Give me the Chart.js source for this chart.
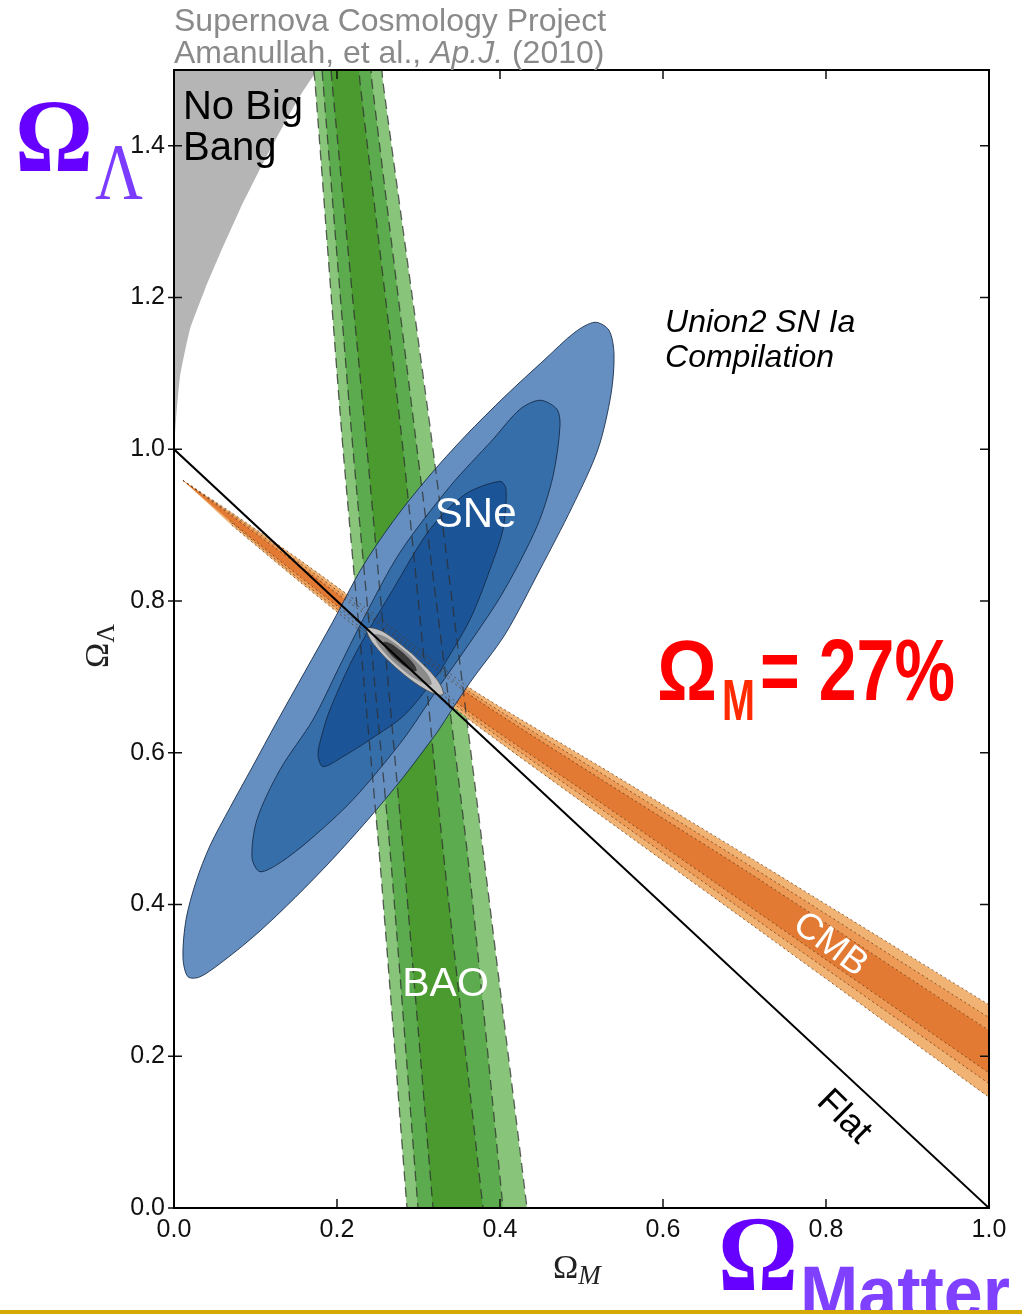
<!DOCTYPE html>
<html>
<head>
<meta charset="utf-8">
<script src="https://cdn.jsdelivr.net/npm/chart.js@4.4.1/dist/chart.umd.min.js"></script>
<style>
  html, body { margin: 0; padding: 0; background: #fff; }
</style>
</head>
<body>
<canvas id="chart" width="1022" height="1314"></canvas>
<script>
(function () {
	/*global Chart */

	// Axis ticks
	var xTicks = [0, 0.2, 0.4, 0.6, 0.8, 1.0];
	var yTicks = [0, 0.2, 0.4, 0.6, 0.8, 1.0, 1.2, 1.4];

	// "No Big Bang" region (boundary curve, then closed outside the frame)
	var noBigBangX = [0, 0.0025, 0.0074, 0.0196, 0.0380, 0.0589, 0.0810, 0.1055, 0.1337, 0.1546, 0.1767, 0.19, -0.05, -0.05];
	var noBigBangY = [1.0, 1.0396, 1.0963, 1.1583, 1.2111, 1.2639, 1.3166, 1.3694, 1.4261, 1.4657, 1.5013, 1.52, 1.52, 0.95];

	// BAO band edges, sampled at these OmegaLambda values
	var baoY = [1.52, 1.484, 1.0, 0.472, 0.0, -0.03];
	var baoLightLeft = [0.1693, 0.1730, 0.2074, 0.2515, 0.2859, 0.2883];
	var baoMidLeft = [0.1804, 0.1828, 0.2196, 0.2650, 0.2994, 0.3018];
	var baoDarkLeft = [0.1914, 0.1939, 0.2368, 0.2810, 0.3178, 0.3202];
	var baoDarkRight = [0.2258, 0.2282, 0.2810, 0.3301, 0.3791, 0.3816];
	var baoMidRight = [0.2405, 0.2429, 0.2982, 0.3595, 0.4037, 0.4061];
	var baoLightRight = [0.2540, 0.2564, 0.3178, 0.3791, 0.4331, 0.4356];

	// CMB band edges, sampled at these OmegaM values
	var cmbX = [0.011, 0.0687, 0.1546, 0.2528, 0.3607, 0.5227, 0.7067, 1.0, 1.0258];
	var cmbLightUpper = [0.959, 0.918, 0.854, 0.777, 0.687, 0.582, 0.462, 0.268, 0.251];
	var cmbLightLower = [0.959, 0.902, 0.825, 0.740, 0.645, 0.518, 0.375, 0.146, 0.127];
	var cmbMidUpper = [0.959, 0.916, 0.850, 0.772, 0.682, 0.574, 0.451, 0.251, 0.234];
	var cmbMidLower = [0.959, 0.905, 0.828, 0.745, 0.650, 0.527, 0.386, 0.164, 0.144];
	var cmbDarkUpper = [0.959, 0.914, 0.846, 0.768, 0.678, 0.566, 0.441, 0.234, 0.217];
	var cmbDarkLower = [0.959, 0.906, 0.832, 0.749, 0.655, 0.535, 0.397, 0.178, 0.158];

	// SNe contours (99.7%, 95.4%, 68.3%)
	var sneOuterX = [0.3227, 0.2810, 0.2380, 0.1939, 0.1485, 0.1031, 0.0626, 0.0319, 0.0172, 0.0110, 0.0147, 0.0270, 0.0442, 0.0687, 0.0957, 0.1264, 0.1607, 0.1951, 0.2307, 0.2687, 0.3117, 0.3571, 0.4061, 0.4552, 0.4920, 0.5166, 0.5337, 0.5399, 0.5362, 0.5202, 0.4883, 0.4491, 0.4061, 0.3632];
	var sneOuterY = [0.6266, 0.5673, 0.5119, 0.4591, 0.4090, 0.3628, 0.3272, 0.3047, 0.3047, 0.3298, 0.3799, 0.4301, 0.4776, 0.5277, 0.5805, 0.6412, 0.7071, 0.7731, 0.8443, 0.9050, 0.9631, 1.0172, 1.0699, 1.1187, 1.1544, 1.1675, 1.1570, 1.1253, 1.0726, 1.0, 0.9235, 0.8417, 0.7559, 0.6926];
	var sneMidX = [0.3227, 0.2810, 0.2196, 0.1669, 0.1301, 0.1055, 0.0957, 0.1018, 0.1301, 0.1706, 0.2012, 0.2319, 0.2773, 0.3387, 0.3914, 0.4245, 0.4491, 0.4699, 0.4736, 0.4650, 0.4454, 0.4037, 0.3632];
	var sneMidY = [0.6834, 0.6174, 0.5383, 0.4855, 0.4551, 0.4433, 0.4617, 0.5119, 0.5778, 0.6438, 0.7098, 0.7757, 0.8641, 0.9512, 1.0132, 1.0528, 1.0647, 1.0528, 1.0304, 0.9644, 0.8984, 0.8114, 0.7454];
	var sneInnerX = [0.3264, 0.2834, 0.2405, 0.2074, 0.1828, 0.1767, 0.1816, 0.1914, 0.2221, 0.2687, 0.3141, 0.3571, 0.4000, 0.4074, 0.4037, 0.3877, 0.3632];
	var sneInnerY = [0.7071, 0.6504, 0.6174, 0.5950, 0.5818, 0.5976, 0.6240, 0.6570, 0.7296, 0.8153, 0.8945, 0.9406, 0.9578, 0.9472, 0.8945, 0.8417, 0.7757];

	// Combined constraint (grey)
	var combOuterX = [0.2920, 0.2564, 0.2368, 0.2442, 0.2748, 0.3104, 0.3301, 0.3227];
	var combOuterY = [0.7309, 0.7599, 0.7639, 0.7441, 0.7098, 0.6821, 0.6768, 0.6966];
	var combMidX = [0.2871, 0.2607, 0.2460, 0.2515, 0.2745, 0.3012, 0.3160, 0.3104];
	var combMidY = [0.7309, 0.7520, 0.7559, 0.7409, 0.7150, 0.6939, 0.6900, 0.7050];
	var combInnerX = [0.2813, 0.2658, 0.2571, 0.2601, 0.2733, 0.2888, 0.2975, 0.2945];
	var combInnerY = [0.7318, 0.7441, 0.7460, 0.7369, 0.7219, 0.7099, 0.7078, 0.7168];

	// Flat universe line
	var flatX = [0, 1];
	var flatY = [1, 0];

	var sansFont = '"Liberation Sans", Arial, Helvetica, sans-serif';
	var serifFont = '"Liberation Serif", "Times New Roman", serif';

	function toPoints(xs, ys, close) {
		var pts = [];
		for (var i = 0; i < xs.length; i++) {
			pts.push({ x: xs[i], y: ys[i] });
		}
		if (close) {
			pts.push({ x: xs[0], y: ys[0] });
		}
		return pts;
	}

	// Left edge top -> bottom, then right edge bottom -> top
	function baoPoints(leftX, rightX) {
		var pts = [], i;
		for (i = 0; i < baoY.length; i++) pts.push({ x: leftX[i], y: baoY[i] });
		for (i = baoY.length - 1; i >= 0; i--) pts.push({ x: rightX[i], y: baoY[i] });
		return pts;
	}

	function cmbPoints(upper, lower) {
		var pts = [], i;
		for (i = 0; i < cmbX.length; i++) pts.push({ x: cmbX[i], y: upper[i] });
		for (i = cmbX.length - 1; i > 0; i--) pts.push({ x: cmbX[i], y: lower[i] });
		return pts;
	}

	function area(points, color, order, tension, border) {
		return {
			data: points,
			showLine: true,
			fill: 'shape',
			backgroundColor: color,
			borderColor: border ? border.color : 'rgba(0,0,0,0)',
			borderWidth: border ? border.width : 0,
			pointRadius: 0,
			tension: tension,
			order: order,
		};
	}

	function outline(points, color, width, dash, order, tension) {
		return {
			data: points,
			showLine: true,
			fill: false,
			backgroundColor: 'rgba(0,0,0,0)',
			borderColor: color,
			borderWidth: width,
			borderDash: dash,
			pointRadius: 0,
			tension: tension,
			order: order,
		};
	}

	var baoLight = baoPoints(baoLightLeft, baoLightRight);
	var baoMid = baoPoints(baoMidLeft, baoMidRight);
	var baoDark = baoPoints(baoDarkLeft, baoDarkRight);
	var cmbLight = cmbPoints(cmbLightUpper, cmbLightLower);
	var cmbMid = cmbPoints(cmbMidUpper, cmbMidLower);
	var cmbDark = cmbPoints(cmbDarkUpper, cmbDarkLower);
	var sneEdge = { color: 'rgba(20,40,70,0.85)', width: 1 };
	var combEdge = { color: 'rgba(70,70,70,0.8)', width: 1 };

	var datasets = [
		area(toPoints(noBigBangX, noBigBangY, false), '#b5b5b5', 100, 0.15),

		area(baoLight, '#88c57a', 95, 0.2),
		area(baoMid, '#5dab4f', 94, 0.2),
		area(baoDark, '#4a9a30', 93, 0.2),

		area(cmbLight, '#f1b374', 90, 0.2),
		area(cmbMid, '#ec9a55', 89, 0.2),
		area(cmbDark, '#e27a34', 88, 0.2),

		area(toPoints(sneOuterX, sneOuterY, true), '#658fc0', 80, 0.3, sneEdge),
		area(toPoints(sneMidX, sneMidY, true), '#356ea8', 79, 0.3, sneEdge),
		area(toPoints(sneInnerX, sneInnerY, true), '#1c5597', 78, 0.3, sneEdge),

		outline(baoLight, 'rgba(45,45,45,0.75)', 1.3, [10, 6], 70, 0.2),
		outline(baoMid, 'rgba(45,45,45,0.75)', 1.3, [10, 6], 70, 0.2),
		outline(baoDark, 'rgba(45,45,45,0.75)', 1.3, [10, 6], 70, 0.2),

		outline(cmbLight, 'rgba(90,50,20,0.7)', 1, [2, 3], 65, 0.2),
		outline(cmbMid, 'rgba(90,50,20,0.7)', 1, [2, 3], 65, 0.2),
		outline(cmbDark, 'rgba(90,50,20,0.7)', 1, [2, 3], 65, 0.2),

		area(toPoints(combOuterX, combOuterY, true), '#c2c2c2', 60, 0.35, combEdge),
		area(toPoints(combMidX, combMidY, true), '#8a8a8a', 59, 0.35),
		area(toPoints(combInnerX, combInnerY, true), '#3a3a3a', 58, 0.35),

		outline(toPoints(flatX, flatY, false), '#000', 2, [], 50, 0),
	];

	// Draw text at x, baseline y, squeezed or stretched to a given width
	function fitText(ctx, s, x, y, width, font, color) {
		ctx.save();
		ctx.font = font;
		ctx.fillStyle = color;
		ctx.textAlign = 'left';
		ctx.textBaseline = 'alphabetic';
		var w = ctx.measureText(s).width;
		ctx.translate(x, y);
		ctx.scale(width / w, 1);
		ctx.fillText(s, 0, 0);
		ctx.restore();
	}

	function rotatedText(ctx, s, x, y, angle, font, color) {
		ctx.save();
		ctx.font = font;
		ctx.fillStyle = color;
		ctx.textAlign = 'center';
		ctx.textBaseline = 'middle';
		ctx.translate(x, y);
		ctx.rotate(angle);
		ctx.fillText(s, 0, 0);
		ctx.restore();
	}

	var framePlugin = {
		id: 'frameAndText',
		afterDatasetsDraw: function (chart) {
			var ctx = chart.ctx, a = chart.chartArea;
			var xs = chart.scales.x, ys = chart.scales.y;
			var i, p;
			ctx.save();
			ctx.strokeStyle = '#111';
			ctx.lineWidth = 1.5;
			for (i = 0; i < xTicks.length; i++) {
				p = xs.getPixelForValue(xTicks[i]);
				ctx.beginPath();
				ctx.moveTo(p, a.bottom);
				ctx.lineTo(p, a.bottom - 9);
				ctx.moveTo(p, a.top);
				ctx.lineTo(p, a.top + 9);
				ctx.stroke();
			}
			for (i = 0; i < yTicks.length; i++) {
				p = ys.getPixelForValue(yTicks[i]);
				ctx.beginPath();
				ctx.moveTo(a.left - 6, p);
				ctx.lineTo(a.left + 8, p);
				ctx.moveTo(a.right, p);
				ctx.lineTo(a.right - 9, p);
				ctx.stroke();
			}
			ctx.lineWidth = 2;
			ctx.strokeStyle = '#000';
			ctx.strokeRect(a.left, a.top, a.right - a.left, a.bottom - a.top);
			ctx.restore();
		},
		afterDraw: function (chart) {
			var ctx = chart.ctx;
			var xs = chart.scales.x, ys = chart.scales.y;
			var w;

			// Source lines above the frame
			ctx.save();
			ctx.fillStyle = '#8a8a8a';
			ctx.textBaseline = 'alphabetic';
			ctx.font = '32px ' + sansFont;
			ctx.fillText('Supernova Cosmology Project', 174, 31);
			var part1 = 'Amanullah, et al., ';
			ctx.fillText(part1, 174, 63);
			w = ctx.measureText(part1).width;
			ctx.font = 'italic 32px ' + sansFont;
			ctx.fillText('Ap.J.', 174 + w, 63);
			w += ctx.measureText('Ap.J.').width;
			ctx.font = '32px ' + sansFont;
			ctx.fillText(' (2010)', 174 + w, 63);
			ctx.restore();

			// In-plot labels
			ctx.save();
			ctx.textBaseline = 'alphabetic';
			ctx.fillStyle = '#000';
			ctx.font = '40px ' + sansFont;
			ctx.fillText('No Big', xs.getPixelForValue(0.011), ys.getPixelForValue(1.436));
			ctx.fillText('Bang', xs.getPixelForValue(0.011), ys.getPixelForValue(1.381));
			ctx.font = 'italic 32px ' + sansFont;
			ctx.fillText('Union2 SN Ia', xs.getPixelForValue(0.6025), ys.getPixelForValue(1.154));
			ctx.fillText('Compilation', xs.getPixelForValue(0.6025), ys.getPixelForValue(1.108));
			ctx.fillStyle = '#fff';
			ctx.font = '42px ' + sansFont;
			ctx.fillText('SNe', xs.getPixelForValue(0.320), ys.getPixelForValue(0.897));
			ctx.font = '41px ' + sansFont;
			ctx.fillText('BAO', xs.getPixelForValue(0.280), ys.getPixelForValue(0.279));
			ctx.restore();
			rotatedText(ctx, 'CMB', xs.getPixelForValue(0.805), ys.getPixelForValue(0.347), 0.64, '37px ' + sansFont, '#fff');
			rotatedText(ctx, 'Flat', xs.getPixelForValue(0.822), ys.getPixelForValue(0.12), 0.78, '36px ' + sansFont, '#000');

			// Axis titles
			ctx.save();
			ctx.fillStyle = '#222';
			ctx.font = '34px ' + serifFont;
			ctx.fillText('\u03A9', 553, 1278);
			w = ctx.measureText('\u03A9').width;
			ctx.font = 'italic 27px ' + serifFont;
			ctx.fillText('M', 553 + w, 1284);
			ctx.restore();

			ctx.save();
			ctx.fillStyle = '#222';
			ctx.translate(108, 668);
			ctx.rotate(-Math.PI / 2);
			ctx.font = '34px ' + serifFont;
			ctx.fillText('\u03A9', 0, 0);
			w = ctx.measureText('\u03A9').width;
			ctx.font = '26px ' + serifFont;
			ctx.fillText('\u039B', w, 6);
			ctx.restore();

			// Big overlays
			fitText(ctx, '\u03A9', 15, 171, 78, 'bold 104px ' + serifFont, '#6600ff');
			fitText(ctx, '\u039B', 95, 199, 48, '80px ' + serifFont, '#7b3cff');

			fitText(ctx, '\u03A9', 657, 700, 60, 'bold 86px ' + sansFont, '#ff0000');
			fitText(ctx, 'M', 722, 720, 33, 'bold 58px ' + sansFont, '#ff2a00');
			fitText(ctx, '= 27%', 760, 700, 195, 'bold 88px ' + sansFont, '#ff0000');

			fitText(ctx, '\u03A9', 718, 1290, 80, 'bold 108px ' + serifFont, '#6600ff');
			fitText(ctx, 'Matter', 800, 1318, 210, 'bold 74px ' + sansFont, '#8040ff');

			ctx.save();
			ctx.fillStyle = '#d4aa00';
			ctx.fillRect(0, 1310, 1022, 4);
			ctx.restore();
		},
	};

	var tickFont = { family: 'Liberation Sans', size: 25 };

	new Chart(document.getElementById('chart'), {
		type: 'scatter',
		data: { datasets: datasets },
		options: {
			responsive: false,
			animation: false,
			events: [],
			layout: { padding: { top: 70, right: 33, left: 0, bottom: 0 } },
			plugins: {
				legend: { display: false },
				tooltip: { enabled: false },
			},
			elements: {
				point: { radius: 0 },
				line: { capBezierPoints: false },
			},
			scales: {
				x: {
					type: 'linear',
					min: 0,
					max: 1,
					grid: { display: false, drawTicks: false },
					border: { display: false },
					afterBuildTicks: function (scale) {
						scale.ticks = xTicks.map(function (v) { return { value: v }; });
					},
					afterFit: function (scale) {
						scale.height = 106;
					},
					ticks: {
						padding: 7,
						color: '#111',
						font: tickFont,
						maxRotation: 0,
						autoSkip: false,
						callback: function (v) { return Number(v).toFixed(1); },
					},
				},
				y: {
					type: 'linear',
					min: 0,
					max: 1.5,
					grid: { display: false, drawTicks: false },
					border: { display: false },
					afterBuildTicks: function (scale) {
						scale.ticks = yTicks.map(function (v) { return { value: v }; });
					},
					afterFit: function (scale) {
						scale.width = 174;
					},
					ticks: {
						padding: 9,
						color: '#111',
						font: tickFont,
						autoSkip: false,
						callback: function (v) { return Number(v).toFixed(1); },
					},
				},
			},
		},
		plugins: [framePlugin],
	});
})();
</script>
</body>
</html>
